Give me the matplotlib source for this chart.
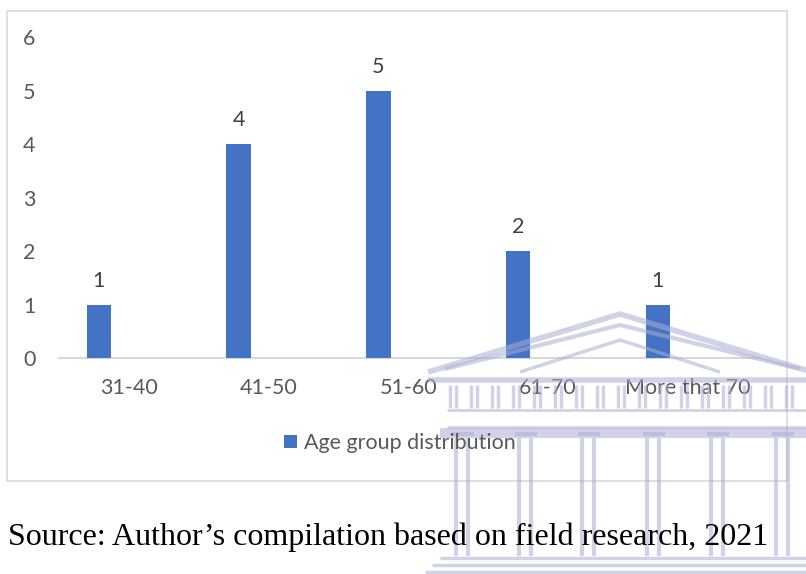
import matplotlib
matplotlib.use("Agg")
import matplotlib.pyplot as plt
from matplotlib.patches import Rectangle, Polygon
from matplotlib.lines import Line2D

categories = ["31-40", "41-50", "51-60", "61-70", "More that 70"]
values = [1, 4, 5, 2, 1]
yticks = [0, 1, 2, 3, 4, 5, 6]
series_name = "Age group distribution"
source_text = "Source: Author\u2019s compilation based on field research, 2021"

W, H = 806, 574
fig = plt.figure(figsize=(W / 100, H / 100), dpi=100)

def fx(px):
    return px / W

def fy(py):
    return 1 - py / H

# chart border
fig.patches.append(Rectangle((fx(7), fy(481)), fx(787) - fx(7), fy(11) - fy(481),
                             transform=fig.transFigure, fill=False,
                             edgecolor="#d9d9d9", linewidth=1.2))

left, right, top, bottom = 59, 757.5, 37.3, 358.3
ax = fig.add_axes([fx(left), fy(bottom), fx(right) - fx(left), fy(top) - fy(bottom)])

font = "Lato"
tick_color = "#595959"
fs = 15.5
x = list(range(len(categories)))
offset = -0.214
bw = 0.175
bars = ax.bar([i + offset for i in x], values, width=bw, color="#4472C4", zorder=3,
              label=series_name)
for i, v in zip(x, values):
    ax.text(i + offset, v + 0.45, str(v), ha="center", va="center",
            fontsize=fs, color="#404040", family=font, clip_on=False)

ax.set_xlim(-0.5, len(categories) - 0.5)
ax.set_ylim(0, 6)
ax.set_yticks(yticks)
ax.set_yticklabels([str(t) for t in yticks], fontsize=fs, color=tick_color, family=font)
ax.set_xticks(x)
ax.set_xticklabels(categories, fontsize=fs, color=tick_color, family=font)
ax.tick_params(axis="both", length=0)
ax.tick_params(axis="y", pad=17)
ax.tick_params(axis="x", pad=14)
for s in ["top", "right", "left"]:
    ax.spines[s].set_visible(False)
ax.spines["bottom"].set_color("#d9d9d9")
ax.spines["bottom"].set_linewidth(1.5)

leg = fig.legend(handles=[bars], labels=[series_name], loc="center",
                 bbox_to_anchor=(fx(400), fy(443)), frameon=False,
                 prop={"family": font, "size": fs}, handlelength=0.6,
                 handleheight=0.6, handletextpad=0.35)
for t in leg.get_texts():
    t.set_color(tick_color)

fig.text(fx(8), fy(537), source_text, ha="left", va="center",
         fontsize=23, family="Liberation Serif", color="#000000")

# faint watermark (decorative building outline)
wm = "#aab0d4"
wa = 0.55

def wline(xs, ys, lw=3.0):
    fig.add_artist(Line2D([fx(v) for v in xs], [fy(v) for v in ys],
                          color=wm, alpha=wa, linewidth=lw, transform=fig.transFigure,
                          solid_capstyle="butt"))

wline([428, 620, 812], [372, 314, 372], lw=4)
wline([445, 620, 800], [369, 325, 369], lw=3)
wline([520, 620, 720], [372, 340, 372], lw=2.5)
wline([428, 812], [380, 380], lw=4)
for xx in range(450, 800, 21):
    wline([xx, xx], [385, 408], lw=2.5)
    wline([xx + 6, xx + 6], [385, 408], lw=2.5)
wline([447, 806], [410, 410], lw=2)
wline([447, 806], [427, 427], lw=2)
fig.patches.append(Rectangle((fx(440), fy(438)), fx(806) - fx(440), fy(428) - fy(438),
                             transform=fig.transFigure, color=wm, alpha=wa, linewidth=0))
for cx in [462, 525, 588, 653, 717, 782]:
    wline([cx - 10, cx + 12], [434, 434], lw=3)
    wline([cx - 6, cx - 6], [438, 556], lw=3)
    wline([cx + 6, cx + 6], [438, 556], lw=3)
wline([440, 806], [558, 558], lw=2.5)
wline([432, 806], [565, 565], lw=2.5)
wline([425, 806], [572, 572], lw=2.5)

fig.savefig("out.png", dpi=100)
